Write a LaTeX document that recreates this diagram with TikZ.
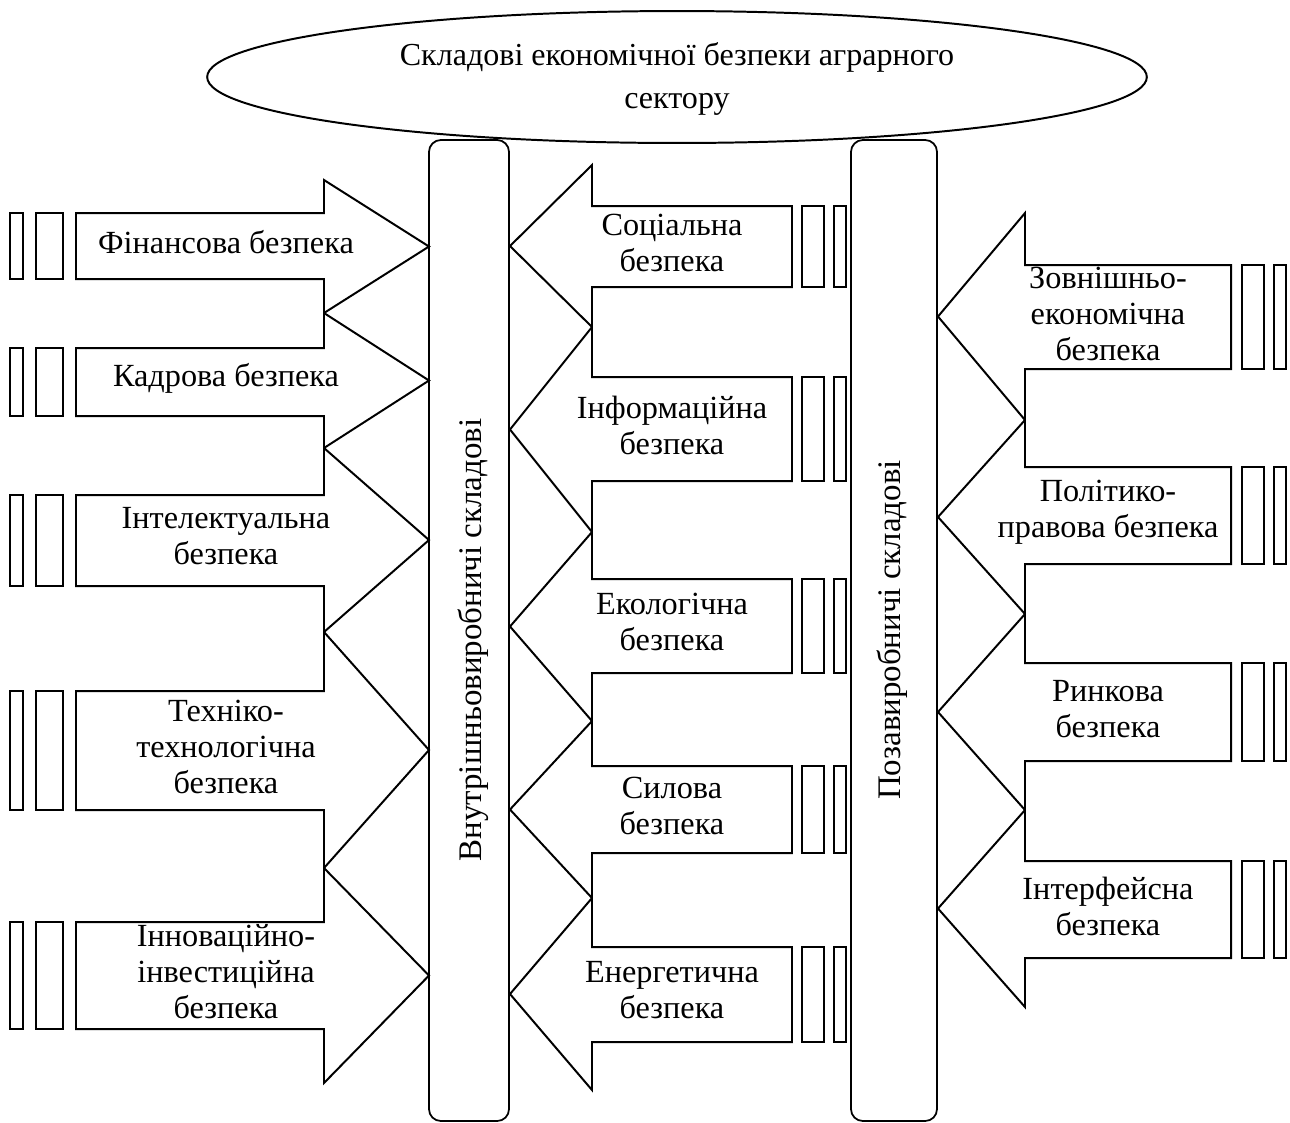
\documentclass[tikz,border=0pt]{standalone}
\usepackage{fontspec}
\setmainfont{Liberation Serif}
\tikzset{
  shapeline/.style={line width=0.9pt, line join=miter},
  lbl/.style={align=center, font=\fontsize{14.7}{16.4}\selectfont, inner sep=0pt},
  colbox/.style={line width=0.8pt, rounded corners=0.19cm},
}

\begin{document}
\begin{tikzpicture}[x=0.016cm, y=-0.016cm]
  \useasboundingbox (0,0) rectangle (1290,1122);

  % title
  \draw[shapeline] (677,77) ellipse [x radius=7.52cm, y radius=1.056cm];
  \node[lbl, font=\fontsize{14.6}{19.5}\selectfont] (title) at (677,79)
    {Складові економічної безпеки аграрного\\сектору};

  % the two columns
  \draw[colbox] (429,140) rectangle (509,1121);
  \node[lbl, rotate=90, font=\fontsize{15}{18}\selectfont] (inner) at (473,640)
    {Внутрішньовиробничі складові};
  \draw[colbox] (851,140) rectangle (937,1121);
  \node[lbl, rotate=90, font=\fontsize{15}{18}\selectfont] (outer) at (892,630)
    {Позавиробничі складові};

  % left arrows
  \foreach \i/\ya/\yb/\hu/\hd/\txt in {
      1/213/279/180/313/{Фінансова безпека},
      2/348/416/313/448/{Кадрова безпека},
      3/495/586/448/632/{Інтелектуальна\\безпека},
      4/691/810/632/868/{Техніко-\\технологічна\\безпека},
      5/922/1029/868/1083/{Інноваційно-\\інвестиційна\\безпека}}{
    \draw[shapeline] (76,\ya) -- (324,\ya) -- (324,\hu) -- (429,{(\hu+\hd)/2})
      -- (324,\hd) -- (324,\yb) -- (76,\yb) -- cycle;
    \draw[shapeline] (10,\ya) rectangle (23,\yb) (36,\ya) rectangle (63,\yb);
    \node[lbl] (left\i) at (226,{(\ya+\yb)/2-4}) {\txt};
  }

  % middle arrows
  \foreach \i/\ya/\yb/\hu/\hd/\txt in {
      1/206/287/165/327/{Соціальна\\безпека},
      2/377/481/327/532/{Інформаційна\\безпека},
      3/579/673/532/721/{Екологічна\\безпека},
      4/766/853/721/898/{Силова\\безпека},
      5/947/1042/898/1090/{Енергетична\\безпека}}{
    \draw[shapeline] (792,\ya) -- (592,\ya) -- (592,\hu) -- (510,{(\hu+\hd)/2})
      -- (592,\hd) -- (592,\yb) -- (792,\yb) -- cycle;
    \draw[shapeline] (802,\ya) rectangle (824,\yb) (834,\ya) rectangle (846,\yb);
    \node[lbl] (mid\i) at (672,{(\ya+\yb)/2-4}) {\txt};
  }

  % right arrows
  \foreach \i/\ya/\yb/\hu/\hd/\txt in {
      1/265/369/213/420/{Зовнішньо-\\економічна\\безпека},
      2/467/564/420/614/{Політико-\\правова безпека},
      3/663/761/614/810/{Ринкова\\безпека},
      4/861/958/810/1007/{Інтерфейсна\\безпека}}{
    \draw[shapeline] (1231,\ya) -- (1025,\ya) -- (1025,\hu) -- (938,{(\hu+\hd)/2})
      -- (1025,\hd) -- (1025,\yb) -- (1231,\yb) -- cycle;
    \draw[shapeline] (1242,\ya) rectangle (1264,\yb) (1274,\ya) rectangle (1286,\yb);
    \node[lbl] (right\i) at (1108,{(\ya+\yb)/2-3}) {\txt};
  }
\end{tikzpicture}
\end{document}
